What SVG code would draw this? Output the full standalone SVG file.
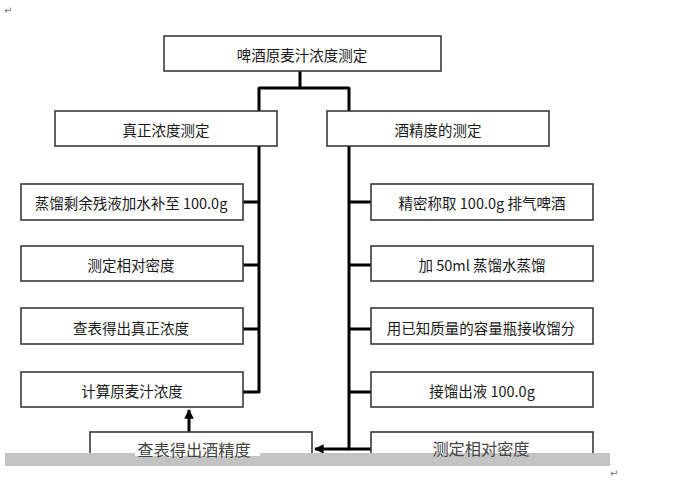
<svg xmlns="http://www.w3.org/2000/svg" width="682" height="480" viewBox="0 0 682 480">
<style>
  .box { fill: #ffffff; stroke: #3a3a3a; stroke-width: 1.6; }
  .conn { fill: none; stroke: #000000; stroke-width: 3; stroke-linejoin: round; }
  .t { font-family: "Noto Sans CJK SC", "Noto Sans", "Liberation Sans", sans-serif; font-size: 14.5px; fill: #1a1a1a; text-anchor: middle; dominant-baseline: central; }
  .t5 { font-size: 16.2px; fill: #444444; }
  .mark { font-family: "DejaVu Sans", sans-serif; font-size: 10px; fill: #777777; }
</style>
<defs>
  <marker id="ah" viewBox="0 0 10 10" refX="9" refY="5" markerWidth="3.2" markerHeight="3.2" orient="auto">
    <path d="M0,0 L10,5 L0,10 Z" fill="#000000"/>
  </marker>
</defs>
<rect width="682" height="480" fill="#ffffff"/>
<text class="mark" x="4" y="14">↵</text>

<g id="connectors">
  <path class="conn" d="M300,71 V88"/>
  <path class="conn" d="M259,111 V88 H349 V111"/>
  <path class="conn" d="M259,146 V392 H243"/>
  <path class="conn" d="M259,202 H243 M259,265 H243 M259,329 H243"/>
  <path class="conn" d="M349,146 V449 H372"/>
  <path class="conn" d="M349,202 H372 M349,265 H372 M349,329 H372 M349,392 H372"/>
  <path class="conn" d="M349,449 H315" marker-end="url(#ah)"/>
  <path class="conn" d="M189,432 V410" marker-end="url(#ah)"/>
</g>

<g id="n_top"><rect class="box" x="164" y="36" width="277" height="35"/><text class="t" x="302" y="54">啤酒原麦汁浓度测定</text></g>
<g id="n_true"><rect class="box" x="55" y="111" width="222" height="35"/><text class="t" x="166" y="129">真正浓度测定</text></g>
<g id="n_alc"><rect class="box" x="327" y="111" width="222" height="35"/><text class="t" x="438" y="129">酒精度的测定</text></g>

<g id="n_l1"><rect class="box" x="21" y="184" width="222" height="36"/><text class="t" x="131" y="202">蒸馏剩余残液加水补至 100.0g</text></g>
<g id="n_l2"><rect class="box" x="21" y="246" width="222" height="35"/><text class="t" x="131" y="264">测定相对密度</text></g>
<g id="n_l3"><rect class="box" x="21" y="308" width="222" height="36"/><text class="t" x="131" y="327">查表得出真正浓度</text></g>
<g id="n_l4"><rect class="box" x="21" y="372" width="222" height="35"/><text class="t" x="132" y="390">计算原麦汁浓度</text></g>

<g id="n_r1"><rect class="box" x="371" y="184" width="222" height="36"/><text class="t" x="482" y="202">精密称取 100.0g 排气啤酒</text></g>
<g id="n_r2"><rect class="box" x="371" y="246" width="222" height="35"/><text class="t" x="482" y="264">加 50ml 蒸馏水蒸馏</text></g>
<g id="n_r3"><rect class="box" x="371" y="308" width="222" height="36"/><text class="t" x="481" y="327">用已知质量的容量瓶接收馏分</text></g>
<g id="n_r4"><rect class="box" x="371" y="372" width="222" height="35"/><text class="t" x="482" y="390">接馏出液 100.0g</text></g>

<g id="n_l5"><rect class="box" x="90" y="432" width="222" height="30"/></g>
<g id="n_r5"><rect class="box" x="371" y="432" width="222" height="30"/></g>

<rect x="5" y="453" width="605" height="13" fill="#c3c3c3"/>
<rect x="135" y="453" width="125" height="3" fill="#ffffff"/>
<text class="t t5" x="194" y="449">查表得出酒精度</text>
<text class="t t5" x="481" y="448">测定相对密度</text>

<text class="mark" x="610" y="477">↵</text>
</svg>
